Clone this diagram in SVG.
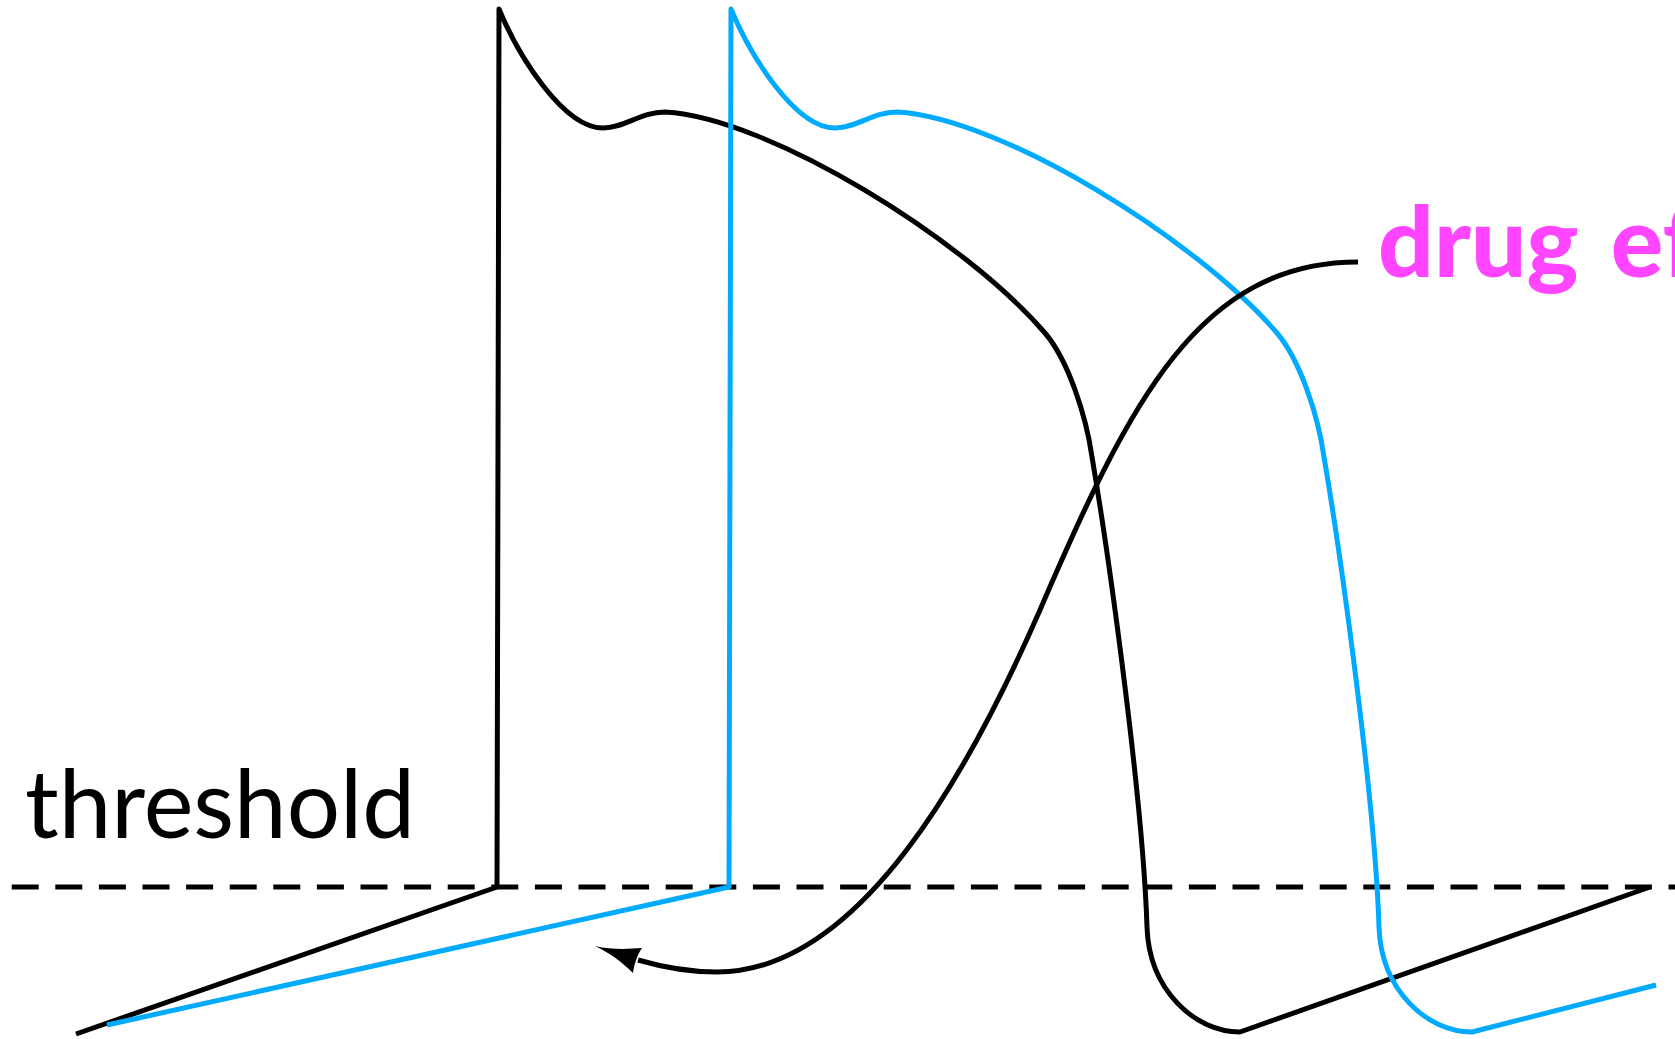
<svg xmlns="http://www.w3.org/2000/svg" width="1675" height="1039" viewBox="0 0 1675 1039">
  <style>
    .trace { fill: none; stroke-width: 5; stroke-linejoin: round; stroke-linecap: butt; }
    .ctrl { stroke: #000000; }
    .drug { stroke: #00aaff; }
    .thr { fill: none; stroke: #000000; stroke-width: 5; stroke-dasharray: 27 16.6; }
    .conn { fill: none; stroke: #000000; stroke-width: 5; }
    .lbl { font-family: Lato, "Open Sans", "Liberation Sans", sans-serif; }
  </style>
  <rect x="0" y="0" width="1675" height="1039" fill="#ffffff"/>

  <g id="threshold-line">
    <line class="thr" x1="11.7" y1="887" x2="1675" y2="887"/>
  </g>

  <g id="ap-control">
    <path class="trace ctrl" d="M76,1034 L497,887 L499,9 C518,55 563,128 603,128 C625,128 640,112 665,112 C770,118 965,240 1045,333 C1068,360 1086,415 1092,457 C1109,557 1143,800 1147,927 C1149,990 1195,1032 1240,1032 L1650,887"/>
  </g>

  <g id="ap-drug">
    <path class="trace drug" d="M107,1025 L729,887 L731,9 C750,55 795,128 835,128 C857,128 872,112 897,112 C1002,118 1197,240 1277,333 C1300,360 1318,415 1324,457 C1341,557 1375,800 1379,927 C1381,990 1427,1032 1472,1032 L1656,985"/>
  </g>

  <g id="label-threshold">
    <text class="lbl" x="25" y="838" font-size="95" fill="#000000" textLength="390" lengthAdjust="spacingAndGlyphs">threshold</text>
  </g>

  <g id="label-drug-effect">
    <text class="lbl" x="1378" y="277" font-size="98" font-weight="900" word-spacing="9" fill="#ff45ff">drug ef</text>
  </g>

  <g id="connectors">
    <path class="conn" d="M1358,262 C1200,262 1130,400 1040,610 C970,770 860,972 717,972 C690,972 662,967 638,960"/>
    <path d="M595,946 C612,950 628,949 642,948 C637,955 634,965 633,973 C622,962 610,953 595,946 Z" fill="#000000"/>
  </g>
</svg>
